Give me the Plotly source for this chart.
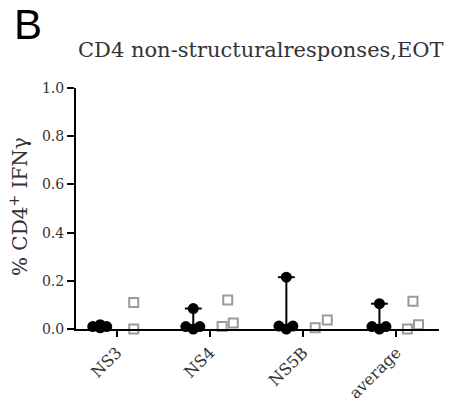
import plotly.graph_objects as go

categories = ["NS3", "NS4", "NS5B", "average"]

# black group (filled circles): three low responders + maximum
black_values = {
    "NS3": [0.010, 0.005, 0.010, 0.018],
    "NS4": [0.010, 0.000, 0.010, 0.085],
    "NS5B": [0.012, 0.000, 0.012, 0.215],
    "average": [0.010, 0.000, 0.010, 0.105],
}
black_jitter = [-0.26, -0.18, -0.11, -0.18]

# grey group (open squares)
grey_values = {
    "NS3": [0.000, 0.110],
    "NS4": [0.010, 0.120, 0.025],
    "NS5B": [0.005, 0.037],
    "average": [0.000, 0.115, 0.018],
}
grey_jitter = {
    "NS3": [0.18, 0.18],
    "NS4": [0.13, 0.19, 0.25],
    "NS5B": [0.13, 0.26],
    "average": [0.12, 0.18, 0.24],
}

yticks = [0.0, 0.2, 0.4, 0.6, 0.8, 1.0]
ytick_text = ["0.0", "0.2", "0.4", "0.6", "0.8", "1.0"]

fig = go.Figure()

bx, by = [], []
lx, ly = [], []
cx, cy = [], []
for i, c in enumerate(categories):
    vals = black_values[c]
    for v, j in zip(vals, black_jitter):
        bx.append(i + j)
        by.append(v)
    center = i + black_jitter[1]
    lx += [center, center, None]
    ly += [min(vals), max(vals), None]
    cx.append(center)
    cy.append(max(vals))

fig.add_trace(go.Scatter(x=lx, y=ly, mode="lines",
                         line=dict(color="black", width=2), hoverinfo="skip",
                         showlegend=False, cliponaxis=False))
fig.add_trace(go.Scatter(x=cx, y=cy, mode="markers",
                         marker=dict(symbol="line-ew", size=12,
                                     line=dict(color="black", width=2)),
                         showlegend=False, cliponaxis=False))
fig.add_trace(go.Scatter(x=bx, y=by, mode="markers",
                         marker=dict(symbol="circle", size=11, color="black",
                                     line=dict(width=0)),
                         showlegend=False, cliponaxis=False))

gx, gy = [], []
for i, c in enumerate(categories):
    for v, j in zip(grey_values[c], grey_jitter[c]):
        gx.append(i + j)
        gy.append(v)
fig.add_trace(go.Scatter(x=gx, y=gy, mode="markers",
                         marker=dict(symbol="square-open", size=9,
                                     color="#9a9a9a",
                                     line=dict(color="#9a9a9a", width=2)),
                         showlegend=False, cliponaxis=False))

serif = "DejaVu Serif"
txt = "#333333"

fig.update_layout(
    width=463, height=406,
    margin=dict(l=76, r=24, t=88, b=77, autoexpand=False),
    paper_bgcolor="white", plot_bgcolor="white",
    xaxis=dict(range=[-0.44, 3.46], tickvals=[0, 1, 2, 3], ticktext=categories,
               automargin=False,
               showgrid=False, zeroline=False, showline=True,
               linecolor="black", linewidth=2, ticks="outside",
               ticklen=6, tickwidth=2, tickcolor="black", tickangle=-45,
               tickfont=dict(family=serif, size=16, color=txt)),
    yaxis=dict(range=[0, 1.0], tickvals=yticks, ticktext=ytick_text,
               automargin=False,
               showgrid=False, zeroline=False, showline=True,
               linecolor="black", linewidth=2, ticks="outside",
               ticklen=7, tickwidth=2, tickcolor="black",
               tickfont=dict(family=serif, size=14, color=txt)),
    annotations=[
        dict(text="B", xref="paper", yref="paper",
             x=(13 - 76) / 363, y=(329 - 0) / 241, borderpad=0,
             xanchor="left", yanchor="top", showarrow=False,
             font=dict(family="Liberation Sans", size=42, color="black")),
        dict(text="CD4 non-structuralresponses,EOT", xref="paper", yref="paper",
             x=(261 - 76) / 363, y=(329 - 50) / 241,
             xanchor="center", yanchor="middle", showarrow=False,
             font=dict(family=serif, size=21, color=txt)),
        dict(text="% CD4<sup>+</sup> IFNγ", xref="paper", yref="paper",
             x=(19 - 76) / 363, y=(329 - 207) / 241, textangle=-90,
             xanchor="center", yanchor="middle", showarrow=False,
             font=dict(family=serif, size=20, color=txt)),
    ],
)

fig.write_html("out.html")
